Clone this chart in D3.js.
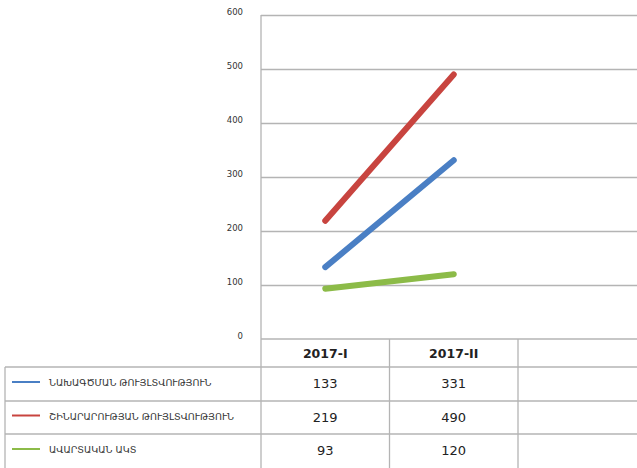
<!DOCTYPE html>
<html><head><meta charset="utf-8">
<script src="https://cdn.jsdelivr.net/npm/d3@7"></script>
<style>body{margin:0;background:#fff}svg{display:block}</style>
</head><body>
<svg id="c" width="637" height="468"></svg>
<script>
const categories = ["2017-I", "2017-II"];
const seriesNames = ["ՆԱԽԱԳԾՄԱՆ ԹՈՒՅԼՏՎՈՒԹՅՈՒՆ", "ՇԻՆԱՐԱՐՈՒԹՅԱՆ ԹՈՒՅԼՏՎՈՒԹՅՈՒՆ", "ԱՎԱՐՏԱԿԱՆ ԱԿՏ"];
const designPermit = [133, 331];
const constructionPermit = [219, 490];
const completionAct = [93, 120];
const seriesColors = ["#4a7fc4", "#c8443f", "#8cbb48"];
const yTicks = [0, 100, 200, 300, 400, 500, 600];

const series = [designPermit, constructionPermit, completionAct];
const svg = d3.select("#c");
const plotL = 261, plotR = 637, plotT = 15, plotB = 339;
const colW = 128.5;
const x = d3.scaleBand().domain([...categories, "__empty"]).range([plotL, plotL + 3 * colW]).padding(0);
const y = d3.scaleLinear().domain([0, 600]).range([plotB, plotT]);
const grid = "#b4b4b4";

// gridlines
svg.append("g").attr("transform", `translate(${plotL},0)`)
  .call(d3.axisLeft(y).tickValues(yTicks.filter(v => v > 0)).tickSize(-(plotR - plotL)).tickFormat(""))
  .call(g => g.select(".domain").remove())
  .call(g => g.selectAll("line").attr("stroke", grid).attr("stroke-width", 1.3));
// y labels
svg.append("g").attr("transform", `translate(${plotL},-3)`)
  .call(d3.axisLeft(y).tickValues(yTicks).tickSize(0).tickPadding(18))
  .call(g => g.select(".domain").remove())
  .call(g => g.selectAll("text").attr("fill", "#333").attr("font-family", "DejaVu Sans, sans-serif").attr("font-size", 8.5));

// plot left border
svg.append("line").attr("x1", plotL).attr("x2", plotL).attr("y1", plotT).attr("y2", 468).attr("stroke", grid).attr("stroke-width", 1.3);

// lines
const line = d3.line().x((d, i) => x(categories[i]) + x.bandwidth() / 2).y(d => y(d));
series.forEach((s, i) => {
  svg.append("path").datum(s).attr("d", line).attr("fill", "none")
    .attr("stroke", seriesColors[i]).attr("stroke-width", 6).attr("stroke-linecap", "round");
});

// table
const rowTops = [339, 367, 401, 434, 468];
const tbl = svg.append("g");
// horizontal lines
rowTops.forEach((t, i) => {
  if (i === 0) tbl.append("line").attr("x1", plotL).attr("x2", plotR).attr("y1", t).attr("y2", t).attr("stroke", grid).attr("stroke-width", 1.5);
  else if (i < rowTops.length - 1) tbl.append("line").attr("x1", 5).attr("x2", plotR).attr("y1", t).attr("y2", t).attr("stroke", grid).attr("stroke-width", 1.5);
});
// vertical lines
tbl.append("line").attr("x1", 5).attr("x2", 5).attr("y1", 367).attr("y2", 468).attr("stroke", grid).attr("stroke-width", 1.3);
x.domain().slice(1).forEach(c => {
  tbl.append("line").attr("x1", x(c)).attr("x2", x(c)).attr("y1", plotB).attr("y2", 468).attr("stroke", grid).attr("stroke-width", 1.3);
});
// header
categories.forEach(c => {
  tbl.append("text").attr("x", x(c) + x.bandwidth() / 2).attr("y", (rowTops[0] + rowTops[1]) / 2 + 5)
    .attr("text-anchor", "middle").attr("font-family", "DejaVu Sans, sans-serif").attr("font-weight", "bold")
    .attr("font-size", 12.5).attr("fill", "#222").text(c);
});
// rows
series.forEach((s, i) => {
  const cy = (rowTops[i + 1] + rowTops[i + 2]) / 2;
  tbl.append("line").attr("x1", 12).attr("x2", 40).attr("y1", cy - 2).attr("y2", cy - 2).attr("stroke", seriesColors[i]).attr("stroke-width", 2);
  tbl.append("text").attr("x", 49).attr("y", cy + 2).attr("font-family", "DejaVu Sans, sans-serif")
    .attr("font-size", 9.5).attr("fill", "#333").text(seriesNames[i]);
  s.forEach((v, j) => {
    tbl.append("text").attr("x", x(categories[j]) + x.bandwidth() / 2).attr("y", cy + 4)
      .attr("text-anchor", "middle").attr("font-family", "DejaVu Sans, sans-serif")
      .attr("font-size", 13).attr("fill", "#222").text(v);
  });
});
</script>
</body></html>
